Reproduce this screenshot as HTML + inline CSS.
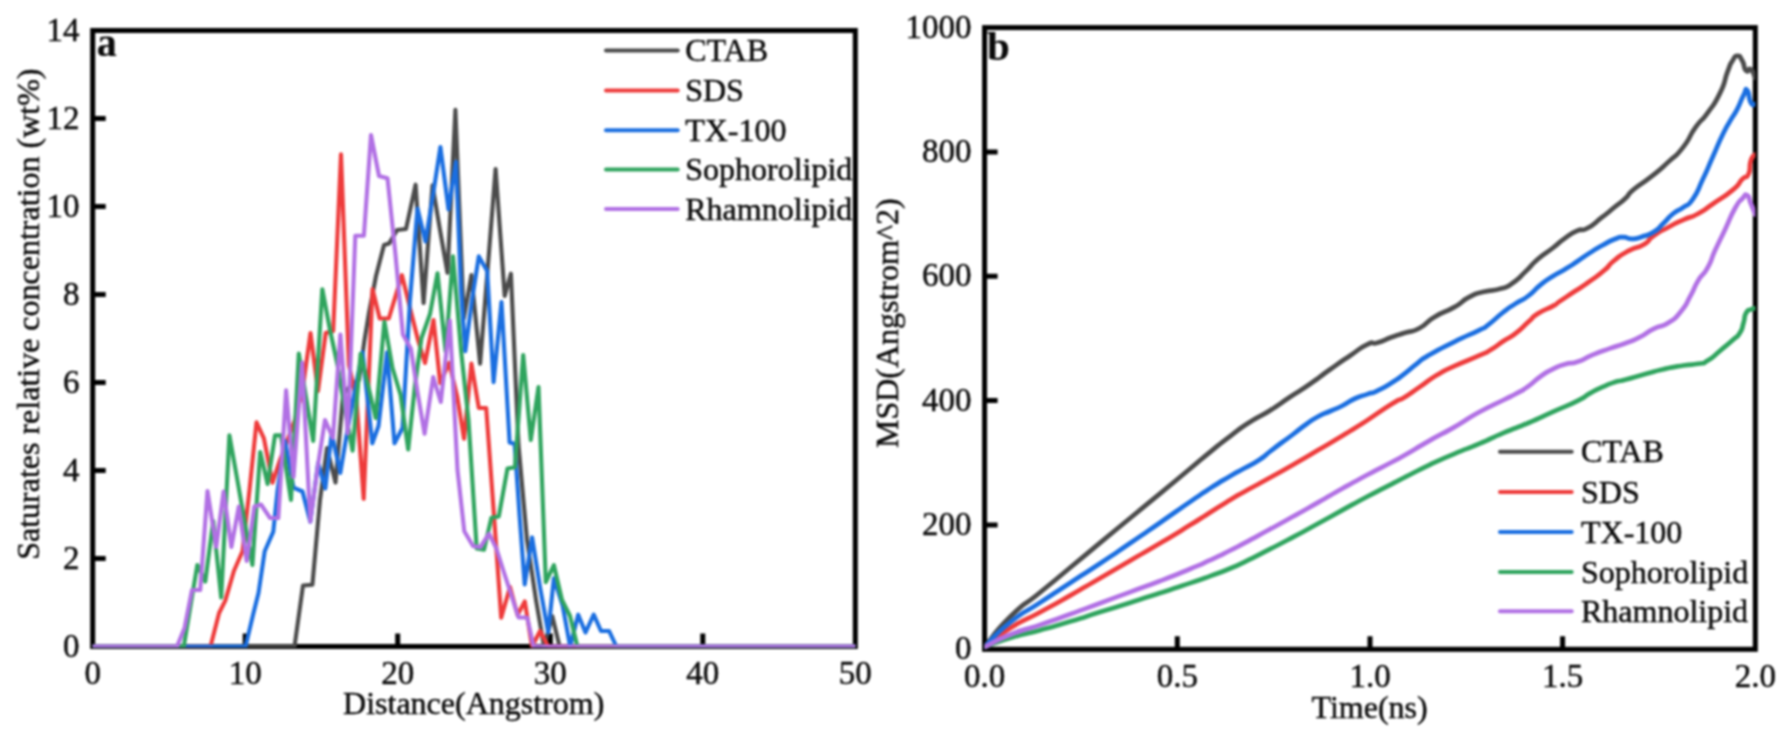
<!DOCTYPE html>
<html lang="en"><head><meta charset="utf-8"><title>Surfactant concentration and MSD</title>
<style>
html,body{margin:0;padding:0;background:#fff;}
body{width:1786px;height:739px;overflow:hidden;font-family:"Liberation Serif",serif;}
svg{display:block;filter:blur(0.8px);}
</style></head><body>
<svg width="1786" height="739" viewBox="0 0 1786 739">
<rect width="1786" height="739" fill="#fff"/>
<defs><clipPath id="cl"><rect x="92.7" y="30.5" width="762.6" height="616.9"/></clipPath><clipPath id="cr"><rect x="984.6" y="27.6" width="770.7" height="621.7"/></clipPath></defs>
<g id="axes">
<rect x="92.7" y="30.5" width="762.6" height="616.0" fill="none" stroke="#000" stroke-width="5.0"/>
<rect x="984.6" y="27.6" width="770.7" height="621.7" fill="none" stroke="#000" stroke-width="5.0"/>
<path d="M245.2 646.5v-13.0 M397.7 646.5v-13.0 M550.3 646.5v-13.0 M702.8 646.5v-13.0 M92.7 558.5h13.0 M92.7 470.5h13.0 M92.7 382.5h13.0 M92.7 294.5h13.0 M92.7 206.5h13.0 M92.7 118.5h13.0 M1177.3 649.3v-13.0 M1370.0 649.3v-13.0 M1562.6 649.3v-13.0 M984.6 525.0h13.0 M984.6 400.6h13.0 M984.6 276.3h13.0 M984.6 151.9h13.0" stroke="#000" stroke-width="5.0" fill="none"/>
</g>
<g clip-path="url(#cl)">
<polyline points="92.7,646.5 294.5,646.5 303.0,585.5 312.4,584.8 320.0,500.0 327.0,448.0 335.5,482.5 343.0,395.0 351.0,385.0 359.0,380.0 364.5,340.0 369.0,312.6 376.0,276.0 384.0,244.9 389.0,243.6 397.2,230.0 406.0,229.0 415.6,184.7 423.6,303.0 432.5,185.3 440.0,230.0 447.5,272.8 455.4,109.8 463.8,318.5 471.4,275.0 480.1,363.6 488.0,265.0 495.6,169.0 504.7,295.9 510.9,273.7 518.5,445.0 527.0,540.0 536.0,600.0 544.0,646.5 552.3,616.3 559.6,646.5 855.3,646.5" fill="none" stroke="#4b4b4b" stroke-width="4.1" stroke-linejoin="round" stroke-linecap="round"/>
<polyline points="92.7,646.5 210.5,646.5 219.1,613.0 225.3,600.6 233.9,571.0 242.5,551.3 249.5,490.0 256.5,422.4 263.9,438.4 272.5,482.7 280.0,460.0 287.5,440.0 295.0,420.0 302.5,390.0 310.5,333.0 318.0,391.0 325.7,333.0 333.2,331.0 341.0,154.4 348.9,365.0 356.5,400.0 363.7,498.8 372.5,289.0 379.7,318.5 388.8,318.5 401.9,275.1 410.0,308.0 418.0,340.0 425.0,363.0 433.5,320.0 440.2,383.0 449.2,363.0 457.3,397.0 464.0,438.8 471.4,363.6 478.8,408.0 486.2,408.0 493.6,510.0 501.2,617.7 510.0,587.0 517.5,615.0 524.8,601.5 532.0,646.5 540.1,631.0 548.2,646.5 855.3,646.5" fill="none" stroke="#ee3b3b" stroke-width="4.1" stroke-linejoin="round" stroke-linecap="round"/>
<polyline points="92.7,646.5 245.5,646.5 253.0,615.0 258.5,593.0 264.7,551.3 273.3,531.6 277.5,491.0 284.9,440.9 293.5,487.7 302.5,491.5 310.3,521.7 318.1,463.0 325.3,488.5 331.7,433.5 340.3,472.9 347.7,428.5 355.0,390.0 362.5,352.2 372.3,443.3 378.5,426.0 387.1,352.2 394.5,443.3 402.5,428.0 410.0,300.0 417.5,208.5 425.5,241.4 433.0,195.0 440.4,147.0 448.5,209.4 455.9,161.8 461.0,290.0 465.3,351.3 472.0,300.0 478.8,256.4 487.2,271.0 493.6,382.1 501.5,302.0 509.6,442.5 514.6,443.7 519.5,515.0 524.7,584.4 532.1,537.4 540.0,587.0 548.2,632.5 553.9,578.2 562.5,605.0 570.1,646.5 578.2,614.7 585.5,632.5 593.7,614.7 601.0,631.0 609.1,631.0 616.4,646.5 855.3,646.5" fill="none" stroke="#1a6ee0" stroke-width="4.1" stroke-linejoin="round" stroke-linecap="round"/>
<polyline points="92.7,646.5 183.8,646.5 190.5,606.0 197.3,565.0 205.3,581.5 213.2,521.0 221.2,597.5 229.4,435.4 237.0,478.0 244.7,522.0 252.4,565.0 260.2,452.0 267.6,484.0 275.0,435.4 281.0,435.4 291.0,500.0 298.8,353.5 306.0,397.0 313.2,441.0 322.3,289.2 330.0,330.0 337.5,365.0 345.0,410.0 352.6,450.7 360.6,353.7 368.2,386.0 375.7,418.0 384.4,321.7 392.5,368.0 400.6,395.0 408.2,449.5 415.0,385.0 421.5,338.0 430.0,314.0 437.5,273.2 445.6,351.3 453.0,256.4 461.0,350.0 468.5,420.0 476.7,548.5 484.0,549.7 491.4,517.7 498.8,516.4 507.5,468.4 514.9,467.2 523.2,355.0 530.8,440.0 538.5,387.0 545.8,582.2 553.9,565.2 562.0,600.0 570.0,616.0 577.4,646.5 855.3,646.5" fill="none" stroke="#2fa45e" stroke-width="4.1" stroke-linejoin="round" stroke-linecap="round"/>
<polyline points="92.7,646.5 177.0,646.5 184.6,627.7 192.0,590.0 200.2,590.0 207.5,491.0 216.2,547.0 223.6,491.5 231.4,547.0 238.8,506.5 246.7,561.0 254.4,506.5 261.0,504.5 270.1,518.0 278.3,518.0 286.1,390.4 293.5,477.0 302.1,362.5 310.3,521.7 318.0,465.0 325.0,420.0 332.9,438.0 340.4,334.6 347.7,433.5 355.3,235.7 363.9,235.7 371.0,135.0 379.0,176.0 387.5,178.3 395.5,255.0 402.9,334.6 410.9,348.7 417.5,392.0 424.6,433.8 433.2,377.0 440.8,402.0 449.8,320.5 457.5,470.0 464.3,531.2 473.0,546.0 480.4,547.2 489.0,533.7 496.4,548.5 503.5,571.0 511.0,594.0 518.5,617.5 527.2,617.5 533.6,646.5 855.3,646.5" fill="none" stroke="#b170e4" stroke-width="4.1" stroke-linejoin="round" stroke-linecap="round"/>
</g>
<g clip-path="url(#cr)">
<path d="M984.6 647.0C993.1 637.0 991.5 635.2 1010.0 617.0C1028.5 598.8 1020.0 608.9 1040.0 592.5C1060.0 576.1 1050.0 584.3 1070.0 567.8C1090.0 551.3 1080.0 559.4 1100.0 542.9C1120.0 526.4 1110.0 534.6 1130.0 518.2C1150.0 501.8 1140.0 510.1 1160.0 493.6C1180.0 477.1 1173.3 482.6 1190.0 468.8C1206.7 455.0 1196.7 462.9 1210.0 452.1C1223.3 441.3 1216.7 446.3 1230.0 436.3C1243.3 426.3 1236.7 430.6 1250.0 422.0C1263.3 413.4 1256.7 418.8 1270.0 410.5C1283.3 402.2 1276.7 405.8 1290.0 397.0C1303.3 388.2 1296.7 393.2 1310.0 384.0C1323.3 374.8 1316.7 378.9 1330.0 369.5C1343.3 360.1 1337.5 364.1 1350.0 355.7C1362.5 347.3 1358.4 348.6 1367.5 344.3C1376.6 340.0 1369.1 345.2 1377.3 342.8C1385.5 340.4 1382.9 340.3 1392.1 337.0C1401.3 333.7 1395.8 335.8 1405.0 332.8C1414.2 329.8 1409.9 333.3 1419.8 328.0C1429.7 322.7 1423.1 323.9 1434.6 316.9C1446.1 309.9 1442.8 313.7 1454.3 307.1C1465.8 300.5 1459.3 302.3 1469.1 297.2C1478.9 292.1 1473.1 294.7 1483.8 291.8C1494.5 288.9 1491.2 291.7 1501.1 288.6C1511.0 285.5 1505.2 288.2 1513.4 282.5C1521.6 276.8 1517.5 279.2 1525.7 271.4C1533.9 263.6 1529.0 266.8 1538.0 259.0C1547.0 251.2 1543.8 255.0 1552.8 248.0C1561.8 241.0 1556.9 243.9 1565.1 238.1C1573.3 232.3 1570.1 234.0 1577.5 230.7C1584.9 227.4 1579.1 232.8 1587.3 228.3C1595.5 223.8 1593.1 224.2 1602.1 217.2C1611.1 210.2 1606.8 213.5 1614.4 207.3C1622.0 201.1 1618.5 204.7 1625.0 198.7C1631.5 192.7 1625.2 196.6 1633.9 189.3C1642.6 182.0 1639.7 185.8 1651.2 176.7C1662.7 167.6 1657.7 171.8 1668.4 161.9C1679.1 152.0 1674.2 158.6 1683.2 147.1C1692.2 135.6 1687.3 138.9 1695.5 127.4C1703.7 115.9 1699.6 124.1 1707.8 112.6C1716.0 101.1 1713.5 106.5 1720.1 92.9C1726.7 79.3 1723.4 82.6 1727.5 71.9C1731.6 61.2 1729.2 66.1 1732.5 60.8C1735.8 55.5 1734.1 55.9 1737.4 55.9C1740.7 55.9 1739.4 55.9 1742.3 60.8C1745.2 65.7 1743.1 67.8 1746.0 70.7C1748.9 73.6 1747.8 67.0 1750.9 69.4C1754.0 71.8 1753.8 75.1 1755.3 78.0" fill="none" stroke="#4b4b4b" stroke-width="4.7" stroke-linejoin="round" stroke-linecap="round"/>
<path d="M984.6 647.0C993.1 640.7 991.5 639.8 1010.0 628.2C1028.5 616.6 1020.0 623.2 1040.0 612.3C1060.0 601.4 1050.0 607.0 1070.0 595.6C1090.0 584.2 1080.0 589.8 1100.0 578.2C1120.0 566.6 1110.0 572.3 1130.0 560.7C1150.0 549.1 1140.0 555.2 1160.0 543.3C1180.0 531.4 1173.3 535.4 1190.0 525.1C1206.7 514.8 1196.7 520.8 1210.0 512.4C1223.3 504.0 1218.6 506.9 1230.0 500.0C1241.4 493.1 1231.3 498.9 1244.3 491.7C1257.3 484.5 1252.5 487.4 1268.9 478.3C1285.3 469.2 1277.1 473.9 1293.5 464.5C1309.9 455.1 1301.8 459.8 1318.2 450.1C1334.6 440.4 1330.5 442.9 1342.8 435.5C1355.1 428.1 1346.9 433.0 1355.1 427.9C1363.3 422.8 1355.2 428.2 1367.5 420.1C1379.8 412.0 1379.6 411.4 1392.1 403.7C1404.6 396.0 1395.8 402.6 1405.0 397.0C1414.2 391.4 1409.1 394.2 1419.8 386.9C1430.5 379.6 1425.5 381.9 1437.0 375.0C1448.5 368.1 1440.3 372.6 1454.3 366.2C1468.3 359.8 1466.6 361.3 1478.9 355.7C1491.2 350.1 1483.0 354.4 1491.2 349.5C1499.4 344.6 1495.3 346.4 1503.5 341.0C1511.7 335.6 1507.7 339.5 1515.9 333.2C1524.1 326.9 1520.8 328.7 1528.2 322.1C1535.6 315.5 1529.8 318.8 1538.0 313.5C1546.2 308.2 1545.5 310.2 1552.8 306.1C1560.1 302.0 1552.7 306.0 1560.0 301.1C1567.3 296.2 1564.9 297.9 1574.8 291.3C1584.7 284.7 1579.8 288.4 1589.6 281.4C1599.4 274.4 1596.1 277.3 1604.3 270.3C1612.5 263.3 1606.0 267.1 1614.2 260.5C1622.4 253.9 1619.1 255.9 1629.0 250.6C1638.9 245.3 1635.6 249.4 1643.8 244.5C1652.0 239.6 1645.4 241.6 1653.6 235.8C1661.8 230.0 1658.5 232.5 1668.4 227.2C1678.3 221.9 1673.3 224.3 1683.2 219.8C1693.1 215.3 1688.2 219.0 1698.0 213.7C1707.8 208.4 1701.2 211.9 1712.7 204.0C1724.2 196.1 1722.6 198.4 1732.5 190.1C1742.4 181.8 1737.0 184.4 1742.3 179.1C1747.6 173.8 1745.6 180.3 1748.5 174.1C1751.4 167.9 1748.6 167.2 1750.9 160.6C1753.2 154.0 1753.8 156.5 1755.3 154.4" fill="none" stroke="#ee3b3b" stroke-width="4.7" stroke-linejoin="round" stroke-linecap="round"/>
<path d="M984.6 647.0C993.1 638.8 991.5 637.3 1010.0 622.5C1028.5 607.7 1020.0 615.8 1040.0 602.6C1060.0 589.4 1050.0 596.0 1070.0 583.0C1090.0 570.0 1080.0 576.7 1100.0 563.5C1120.0 550.3 1110.0 556.9 1130.0 543.3C1150.0 529.7 1140.0 536.5 1160.0 522.7C1180.0 508.9 1173.3 513.3 1190.0 501.9C1206.7 490.5 1196.7 497.0 1210.0 488.4C1223.3 479.8 1218.6 482.9 1230.0 476.2C1241.4 469.5 1234.6 473.7 1244.3 468.3C1254.0 462.9 1250.5 465.6 1259.1 460.0C1267.7 454.4 1262.6 457.2 1270.0 451.5C1277.4 445.8 1273.4 448.8 1281.2 443.0C1289.0 437.2 1285.3 440.2 1293.5 434.0C1301.7 427.8 1297.7 430.3 1305.9 424.5C1314.1 418.7 1310.0 421.0 1318.2 416.5C1326.4 412.0 1322.3 414.7 1330.5 411.0C1338.7 407.3 1334.6 409.7 1342.8 405.5C1351.0 401.3 1346.9 402.3 1355.1 398.5C1363.3 394.7 1360.1 396.7 1367.5 394.1C1374.9 391.5 1369.1 394.6 1377.3 390.8C1385.5 387.0 1382.9 388.4 1392.1 382.6C1401.3 376.8 1396.6 379.7 1405.0 373.3C1413.4 366.9 1409.1 369.5 1417.3 363.3C1425.5 357.1 1417.3 362.0 1429.6 354.8C1441.9 347.6 1437.9 350.0 1454.3 341.8C1470.7 333.6 1467.4 336.1 1478.9 330.3C1490.4 324.5 1480.6 330.4 1488.8 324.3C1497.0 318.2 1494.5 319.0 1503.5 312.0C1512.5 305.0 1507.7 308.7 1515.9 303.4C1524.1 298.1 1520.0 302.2 1528.2 296.0C1536.4 289.8 1532.3 291.5 1540.5 284.9C1548.7 278.3 1544.6 281.5 1552.8 276.3C1561.0 271.1 1556.9 274.3 1565.1 269.3C1573.3 264.3 1569.3 266.8 1577.5 261.3C1585.7 255.8 1581.6 258.2 1589.8 252.9C1598.0 247.6 1593.9 250.0 1602.1 245.5C1610.3 241.0 1607.4 242.1 1614.4 239.3C1621.4 236.5 1617.3 237.3 1623.0 237.1C1628.7 236.9 1625.3 238.9 1631.4 238.8C1637.5 238.7 1633.9 239.2 1641.3 236.9C1648.7 234.6 1646.2 236.5 1653.6 232.0C1661.0 227.5 1656.9 229.5 1663.5 223.3C1670.1 217.1 1666.7 218.8 1673.3 213.5C1679.9 208.2 1676.6 212.2 1683.2 207.3C1689.8 202.4 1686.4 208.2 1693.0 198.8C1699.6 189.4 1696.3 193.0 1702.9 179.1C1709.5 165.2 1706.1 171.8 1712.7 157.0C1719.3 142.2 1716.8 146.7 1722.6 134.8C1728.4 122.9 1725.1 129.9 1730.0 121.2C1734.9 112.5 1732.9 117.4 1737.4 108.8C1741.9 100.2 1740.2 101.4 1743.5 95.3C1746.8 89.2 1744.7 87.9 1747.2 90.4C1749.7 92.9 1748.2 98.2 1750.9 102.7C1753.6 107.2 1753.8 103.5 1755.3 103.9" fill="none" stroke="#1a6ee0" stroke-width="4.7" stroke-linejoin="round" stroke-linecap="round"/>
<path d="M984.6 647.0C993.1 644.0 991.5 643.6 1010.0 638.0C1028.5 632.4 1020.0 635.7 1040.0 630.2C1060.0 624.7 1050.0 627.5 1070.0 621.5C1090.0 615.5 1080.0 618.4 1100.0 612.1C1120.0 605.8 1110.0 609.0 1130.0 602.7C1150.0 596.4 1140.0 599.6 1160.0 593.1C1180.0 586.6 1173.3 588.8 1190.0 583.1C1206.7 577.4 1196.7 581.0 1210.0 576.1C1223.3 571.2 1218.6 573.2 1230.0 568.5C1241.4 563.8 1231.3 568.4 1244.3 562.1C1257.3 555.8 1252.5 558.1 1268.9 549.7C1285.3 541.3 1277.1 545.6 1293.5 536.9C1309.9 528.2 1301.8 532.5 1318.2 523.5C1334.6 514.5 1326.4 518.9 1342.8 509.9C1359.2 500.9 1351.1 505.2 1367.5 496.5C1383.9 487.8 1379.6 490.2 1392.1 483.8C1404.6 477.4 1392.5 483.5 1405.0 477.2C1417.5 470.9 1413.2 472.6 1429.6 464.8C1446.0 457.0 1437.9 460.8 1454.3 453.8C1470.7 446.8 1462.5 450.9 1478.9 443.9C1495.3 436.9 1487.1 439.8 1503.5 432.8C1519.9 425.8 1511.8 430.0 1528.2 423.0C1544.6 416.0 1536.4 419.3 1552.8 411.9C1569.2 404.5 1565.2 407.0 1577.5 400.8C1589.8 394.6 1581.6 397.9 1589.8 393.4C1598.0 388.9 1593.9 390.9 1602.1 387.2C1610.3 383.5 1606.8 384.8 1614.4 382.3C1622.0 379.8 1614.4 382.6 1625.0 379.8C1635.6 377.0 1633.4 377.3 1646.2 373.8C1659.0 370.3 1651.2 372.0 1663.5 369.2C1675.8 366.4 1671.7 367.3 1683.2 365.5C1694.7 363.7 1689.8 365.4 1698.0 363.8C1706.2 362.2 1700.4 365.0 1707.8 360.6C1715.2 356.2 1711.9 357.5 1720.1 350.7C1728.3 343.9 1725.9 346.2 1732.5 340.3C1739.1 334.4 1736.1 338.7 1739.8 332.9C1743.5 327.1 1741.4 329.6 1743.5 323.0C1745.6 316.4 1743.5 317.7 1746.0 313.2C1748.5 308.7 1747.8 311.1 1750.9 309.5C1754.0 307.9 1753.8 308.7 1755.3 308.3" fill="none" stroke="#2fa45e" stroke-width="4.7" stroke-linejoin="round" stroke-linecap="round"/>
<path d="M984.6 647.0C993.1 642.9 991.5 642.1 1010.0 634.7C1028.5 627.3 1020.0 631.7 1040.0 624.9C1060.0 618.1 1050.0 621.5 1070.0 614.3C1090.0 607.1 1080.0 610.6 1100.0 603.2C1120.0 595.8 1110.0 599.5 1130.0 592.1C1150.0 584.7 1140.0 588.7 1160.0 581.0C1180.0 573.3 1173.3 575.9 1190.0 569.0C1206.7 562.1 1196.7 566.4 1210.0 560.2C1223.3 554.0 1218.6 556.2 1230.0 550.5C1241.4 544.8 1231.3 550.0 1244.3 543.1C1257.3 536.2 1252.5 538.7 1268.9 529.8C1285.3 520.9 1277.1 525.4 1293.5 516.3C1309.9 507.2 1301.8 511.7 1318.2 502.4C1334.6 493.1 1326.4 497.5 1342.8 488.3C1359.2 479.1 1351.1 483.6 1367.5 474.8C1383.9 466.0 1379.6 468.6 1392.1 462.0C1404.6 455.4 1392.5 462.1 1405.0 455.0C1417.5 447.9 1413.2 449.9 1429.6 440.6C1446.0 431.3 1437.9 436.5 1454.3 427.1C1470.7 417.7 1462.5 421.3 1478.9 412.3C1495.3 403.3 1491.2 406.2 1503.5 400.0C1515.8 393.8 1507.7 398.3 1515.9 393.8C1524.1 389.3 1520.0 392.2 1528.2 386.4C1536.4 380.6 1532.3 382.2 1540.5 376.5C1548.7 370.8 1544.6 373.3 1552.8 369.2C1561.0 365.1 1556.9 366.7 1565.1 364.2C1573.3 361.7 1568.5 364.8 1577.5 361.8C1586.5 358.8 1581.4 359.6 1592.0 355.2C1602.6 350.8 1598.6 352.4 1609.3 348.6C1620.0 344.8 1614.3 347.4 1624.1 343.7C1633.9 340.0 1629.0 342.5 1638.8 337.6C1648.6 332.7 1643.7 333.8 1653.6 328.9C1663.5 324.0 1659.4 328.5 1668.4 322.8C1677.4 317.1 1673.3 320.7 1680.7 311.7C1688.1 302.7 1684.8 306.0 1690.6 295.7C1696.4 285.4 1692.3 290.4 1698.0 280.9C1703.7 271.4 1702.1 277.6 1707.8 267.3C1713.5 257.0 1709.4 262.7 1715.2 250.1C1721.0 237.5 1718.5 243.3 1725.1 229.4C1731.7 215.5 1729.2 218.8 1734.9 208.5C1740.6 198.2 1738.2 203.0 1742.3 198.6C1746.4 194.2 1744.3 193.7 1747.2 195.4C1750.1 197.1 1748.2 197.2 1750.9 203.6C1753.6 210.0 1753.8 210.9 1755.3 214.6" fill="none" stroke="#b170e4" stroke-width="4.7" stroke-linejoin="round" stroke-linecap="round"/>
</g>
<g font-family="'Liberation Serif', 'Times New Roman', serif" fill="#0a0a0a" stroke="#0a0a0a" stroke-width="0.45">
<text x="92.7" y="684" font-size="33.0" text-anchor="middle">0</text>
<text x="245.2" y="684" font-size="33.0" text-anchor="middle">10</text>
<text x="397.7" y="684" font-size="33.0" text-anchor="middle">20</text>
<text x="550.3" y="684" font-size="33.0" text-anchor="middle">30</text>
<text x="702.8" y="684" font-size="33.0" text-anchor="middle">40</text>
<text x="855.3" y="684" font-size="33.0" text-anchor="middle">50</text>
<text x="79.5" y="656.8" font-size="33.0" text-anchor="end">0</text>
<text x="79.5" y="568.8" font-size="33.0" text-anchor="end">2</text>
<text x="79.5" y="480.8" font-size="33.0" text-anchor="end">4</text>
<text x="79.5" y="392.8" font-size="33.0" text-anchor="end">6</text>
<text x="79.5" y="304.8" font-size="33.0" text-anchor="end">8</text>
<text x="79.5" y="216.8" font-size="33.0" text-anchor="end">10</text>
<text x="79.5" y="128.8" font-size="33.0" text-anchor="end">12</text>
<text x="79.5" y="40.8" font-size="33.0" text-anchor="end">14</text>
<text x="984.6" y="686.7" font-size="33.0" text-anchor="middle">0.0</text>
<text x="1177.3" y="686.7" font-size="33.0" text-anchor="middle">0.5</text>
<text x="1370.0" y="686.7" font-size="33.0" text-anchor="middle">1.0</text>
<text x="1562.6" y="686.7" font-size="33.0" text-anchor="middle">1.5</text>
<text x="1755.3" y="686.7" font-size="33.0" text-anchor="middle">2.0</text>
<text x="971.5" y="659.3" font-size="33.0" text-anchor="end">0</text>
<text x="971.5" y="535.0" font-size="33.0" text-anchor="end">200</text>
<text x="971.5" y="410.6" font-size="33.0" text-anchor="end">400</text>
<text x="971.5" y="286.3" font-size="33.0" text-anchor="end">600</text>
<text x="971.5" y="161.9" font-size="33.0" text-anchor="end">800</text>
<text x="971.5" y="37.6" font-size="33.0" text-anchor="end">1000</text>
<text x="473.7" y="713.6" font-size="32.0" text-anchor="middle">Distance(Angstrom)</text>
<text x="1369.6" y="718" font-size="32.0" text-anchor="middle">Time(ns)</text>
<text transform="translate(39.2,314.2) rotate(-90)" font-size="32.0" text-anchor="middle">Saturates relative concentration (wt%)</text>
<text transform="translate(897.8,323.2) rotate(-90)" font-size="32.0" text-anchor="middle">MSD(Angstrom^2)</text>
<text x="96.8" y="55.5" font-size="40" font-weight="bold" stroke-width="0.15">a</text>
<text x="987" y="60" font-size="41" font-weight="bold" stroke-width="0.15">b</text>
<line x1="606" y1="50.6" x2="677.7" y2="50.6" stroke="#4b4b4b" stroke-width="4" stroke-linecap="round"/>
<text x="685.2" y="61.2" font-size="32.0">CTAB</text>
<line x1="606" y1="90.4" x2="677.7" y2="90.4" stroke="#ee3b3b" stroke-width="4" stroke-linecap="round"/>
<text x="685.2" y="101.0" font-size="32.0">SDS</text>
<line x1="606" y1="130.2" x2="677.7" y2="130.2" stroke="#1a6ee0" stroke-width="4" stroke-linecap="round"/>
<text x="685.2" y="140.8" font-size="32.0">TX-100</text>
<line x1="606" y1="169.4" x2="677.7" y2="169.4" stroke="#2fa45e" stroke-width="4" stroke-linecap="round"/>
<text x="685.2" y="180.0" font-size="32.0">Sophorolipid</text>
<line x1="606" y1="208.9" x2="677.7" y2="208.9" stroke="#b170e4" stroke-width="4" stroke-linecap="round"/>
<text x="685.2" y="219.5" font-size="32.0">Rhamnolipid</text>
<line x1="1500" y1="451.8" x2="1571.7" y2="451.8" stroke="#4b4b4b" stroke-width="4" stroke-linecap="round"/>
<text x="1581" y="462.4" font-size="32.0">CTAB</text>
<line x1="1500" y1="491.9" x2="1571.7" y2="491.9" stroke="#ee3b3b" stroke-width="4" stroke-linecap="round"/>
<text x="1581" y="502.5" font-size="32.0">SDS</text>
<line x1="1500" y1="532.1" x2="1571.7" y2="532.1" stroke="#1a6ee0" stroke-width="4" stroke-linecap="round"/>
<text x="1581" y="542.7" font-size="32.0">TX-100</text>
<line x1="1500" y1="571.9" x2="1571.7" y2="571.9" stroke="#2fa45e" stroke-width="4" stroke-linecap="round"/>
<text x="1581" y="582.5" font-size="32.0">Sophorolipid</text>
<line x1="1500" y1="611.2" x2="1571.7" y2="611.2" stroke="#b170e4" stroke-width="4" stroke-linecap="round"/>
<text x="1581" y="621.8" font-size="32.0">Rhamnolipid</text>
</g>
</svg>
</body></html>
